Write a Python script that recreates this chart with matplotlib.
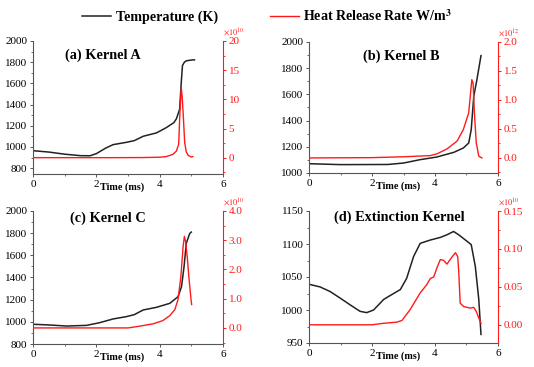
import matplotlib
matplotlib.use("Agg")
import matplotlib.pyplot as plt
from matplotlib.ticker import MultipleLocator
import numpy as np

plt.rcParams['font.family'] = ['Liberation Serif', 'DejaVu Serif']
plt.rcParams['mathtext.fontset'] = 'stix'

# ---- data ----
# (a) Kernel A
tA_T = [0.0, 0.5, 1.0, 1.5, 1.8, 2.0, 2.3, 2.53, 2.95, 3.2, 3.48, 3.9, 4.2, 4.45, 4.53, 4.63, 4.68, 4.72, 4.78, 4.84, 4.95, 5.05, 5.1]
TA   = [965, 952, 932, 918, 917, 937, 990, 1022, 1044, 1060, 1101, 1133, 1181, 1230, 1267, 1356, 1600, 1768, 1800, 1813, 1818, 1822, 1822]
tA_Q = [0.0, 2.5, 3.5, 4.0, 4.2, 4.42, 4.53, 4.6, 4.64, 4.68, 4.71, 4.74, 4.79, 4.84, 4.9, 5.0, 5.05]
QA   = [0.0, 0.0, 0.02, 0.08, 0.17, 0.57, 1.15, 2.3, 7.8, 12.0, 10.5, 7.8, 2.6, 1.0, 0.4, 0.1, 0.2]

# (b) Kernel B
tB_T = [0.0, 1.0, 2.5, 3.0, 3.53, 4.06, 4.6, 4.9, 5.07, 5.15, 5.23, 5.33, 5.46]
TB   = [1071, 1064, 1065, 1076, 1102, 1122, 1158, 1191, 1229, 1331, 1585, 1712, 1896]
tB_Q = [0.0, 2.0, 3.0, 3.85, 4.06, 4.38, 4.7, 4.9, 5.07, 5.12, 5.17, 5.21, 5.25, 5.31, 5.39, 5.49]
QB   = [0.0, 0.005, 0.02, 0.04, 0.07, 0.155, 0.29, 0.49, 0.78, 1.07, 1.35, 1.29, 0.78, 0.26, 0.03, 0.0]

# (c) Kernel C
tC_T = [0.0, 0.5, 1.06, 1.69, 2.1, 2.53, 2.95, 3.2, 3.48, 3.9, 4.32, 4.58, 4.69, 4.77, 4.84, 4.95, 5.0]
TC   = [978, 972, 962, 968, 992, 1026, 1047, 1065, 1107, 1131, 1167, 1227, 1317, 1498, 1708, 1798, 1810]
tC_Q = [0.0, 3.0, 3.37, 3.79, 4.1, 4.32, 4.48, 4.58, 4.67, 4.74, 4.78, 4.82, 4.87, 4.93, 4.99, 5.01]
QC   = [0.0, 0.0, 0.06, 0.14, 0.25, 0.42, 0.63, 0.97, 1.76, 2.78, 3.13, 2.95, 2.44, 1.65, 0.97, 0.8]

# (d) Extinction Kernel
tD_T = [0.0, 0.35, 0.67, 0.99, 1.3, 1.62, 1.83, 2.05, 2.37, 2.58, 2.9, 3.1, 3.32, 3.53, 3.85, 4.17, 4.38, 4.59, 4.75, 5.02, 5.15, 5.28, 5.39, 5.46]
TD   = [1039, 1035, 1028, 1018, 1008, 998, 996, 1000, 1016, 1022, 1031, 1048, 1081, 1101, 1106, 1110, 1114, 1119, 1114, 1104, 1099, 1066, 1016, 963]
tD_Q = [0.0, 2.0, 2.37, 2.79, 2.95, 3.21, 3.53, 3.74, 3.85, 3.96, 4.06, 4.17, 4.27, 4.38, 4.48, 4.57, 4.65, 4.72, 4.75, 4.8, 4.91, 5.02, 5.12, 5.23, 5.31, 5.39, 5.46]
QD   = [0.0, 0.0, 0.002, 0.0035, 0.0057, 0.02, 0.042, 0.053, 0.061, 0.063, 0.075, 0.086, 0.085, 0.08, 0.086, 0.091, 0.095, 0.09, 0.073, 0.0285, 0.024, 0.023, 0.022, 0.023, 0.0175, 0.009, 0.002]

titles = ["(a) Kernel A", "(b) Kernel B", "(c) Kernel C", "(d) Extinction Kernel"]
exps = ["10", "12", "10", "10"]

RED = '#ff1a1a'
DARK = '#222222'

fig = plt.figure(figsize=(5.34, 3.67), dpi=100)
W, H = 534, 367
def rect(l, r, t, b):
    return [l / W, 1 - b / H, (r - l) / W, (b - t) / H]

panels = [
    dict(rect=rect(33, 223, 41, 174), tT=tA_T, T=TA, tQ=tA_Q, Q=QA, ylim=(745, 2000), yt=200, ylim2=(-2.8, 20), yt2=5, fmt2='{:.0f}', tpos=(0.37, 0.895)),
    dict(rect=rect(309, 498, 42, 173), tT=tB_T, T=TB, tQ=tB_Q, Q=QB, ylim=(1000, 2000), yt=200, ylim2=(-0.26, 2.0), yt2=0.5, fmt2='{:.1f}', tpos=(0.487, 0.89)),
    dict(rect=rect(33, 223, 211, 344), tT=tC_T, T=TC, tQ=tC_Q, Q=QC, ylim=(800, 2000), yt=200, ylim2=(-0.55, 4.0), yt2=1.0, fmt2='{:.1f}', tpos=(0.395, 0.945)),
    dict(rect=rect(309, 498, 211, 343), tT=tD_T, T=TD, tQ=tD_Q, Q=QD, ylim=(950, 1150), yt=50, ylim2=(-0.024, 0.15), yt2=0.05, fmt2='{:.2f}', tpos=(0.48, 0.955)),
]

lines = []
for i, p in enumerate(panels):
    ax = fig.add_axes(p['rect'])
    ax2 = ax.twinx()
    lT, = ax.plot(p['tT'], p['T'], color=DARK, lw=1.1)
    lQ, = ax2.plot(p['tQ'], p['Q'], color=RED, lw=1.0)
    if i == 0:
        lines = [lT, lQ]
    ax.set_xlim(0, 6)
    ax.set_ylim(*p['ylim'])
    ax2.set_ylim(*p['ylim2'])
    ax.xaxis.set_major_locator(MultipleLocator(2))
    ax.xaxis.set_minor_locator(MultipleLocator(1))
    ax.yaxis.set_major_locator(MultipleLocator(p['yt']))
    ax.yaxis.set_minor_locator(MultipleLocator(p['yt'] / 2))
    ax2.yaxis.set_major_locator(MultipleLocator(p['yt2']))
    ax2.yaxis.set_minor_locator(MultipleLocator(p['yt2'] / 2))
    ticks2 = [v for v in ax2.get_yticks() if p['ylim2'][0] - 1e-9 <= v <= p['ylim2'][1] + 1e-9]
    ax2.set_yticks(ticks2)
    ax2.set_yticklabels([p['fmt2'].format(v) for v in ticks2])
    for a in (ax, ax2):
        a.spines['top'].set_visible(False)
    ax2.spines['left'].set_visible(False)
    ax2.spines['bottom'].set_visible(False)
    ax.spines['right'].set_visible(False)
    ax.spines['left'].set_color('#555555')
    ax.spines['bottom'].set_color('#555555')
    ax2.spines['right'].set_color(RED)
    for s in ('left', 'bottom'):
        ax.spines[s].set_linewidth(0.8)
    ax2.spines['right'].set_linewidth(0.8)
    ax.tick_params(axis='both', which='major', labelsize=8, length=2.5, width=0.7, pad=1.5, color='#555555')
    ax.tick_params(axis='both', which='minor', length=1.5, width=0.6, color='#555555')
    ax.tick_params(axis='x', pad=2)
    ax2.tick_params(axis='y', which='major', labelsize=8, length=2.5, width=0.7, pad=1.5, color=RED, labelcolor=RED)
    ax2.tick_params(axis='y', which='minor', length=1.5, width=0.6, color=RED)
    ax.text(0.47, -0.1, 'Time (ms)', transform=ax.transAxes, ha='center', va='center',
            fontsize=7.3, fontweight='bold')
    ax.text(p['tpos'][0], p['tpos'][1], titles[i], transform=ax.transAxes, ha='center', va='center',
            fontsize=10.3, fontweight='bold')
    ax2.text(1.0, 1.02, r'$\times10^{%s}$' % exps[i], transform=ax2.transAxes, ha='left', va='bottom',
             fontsize=6, color=RED)

fig.legend(lines, ['Temperature (K)', 'Heat Release Rate W/m$^{\\mathbf{3}}$'], loc='center',
           bbox_to_anchor=(0.5, 1 - 16 / H), ncol=2, frameon=False,
           prop={'weight': 'bold', 'size': 10.1}, handlelength=2.1, handletextpad=0.3,
           columnspacing=3.7, borderaxespad=0)

fig.savefig('out.png', dpi=100)
